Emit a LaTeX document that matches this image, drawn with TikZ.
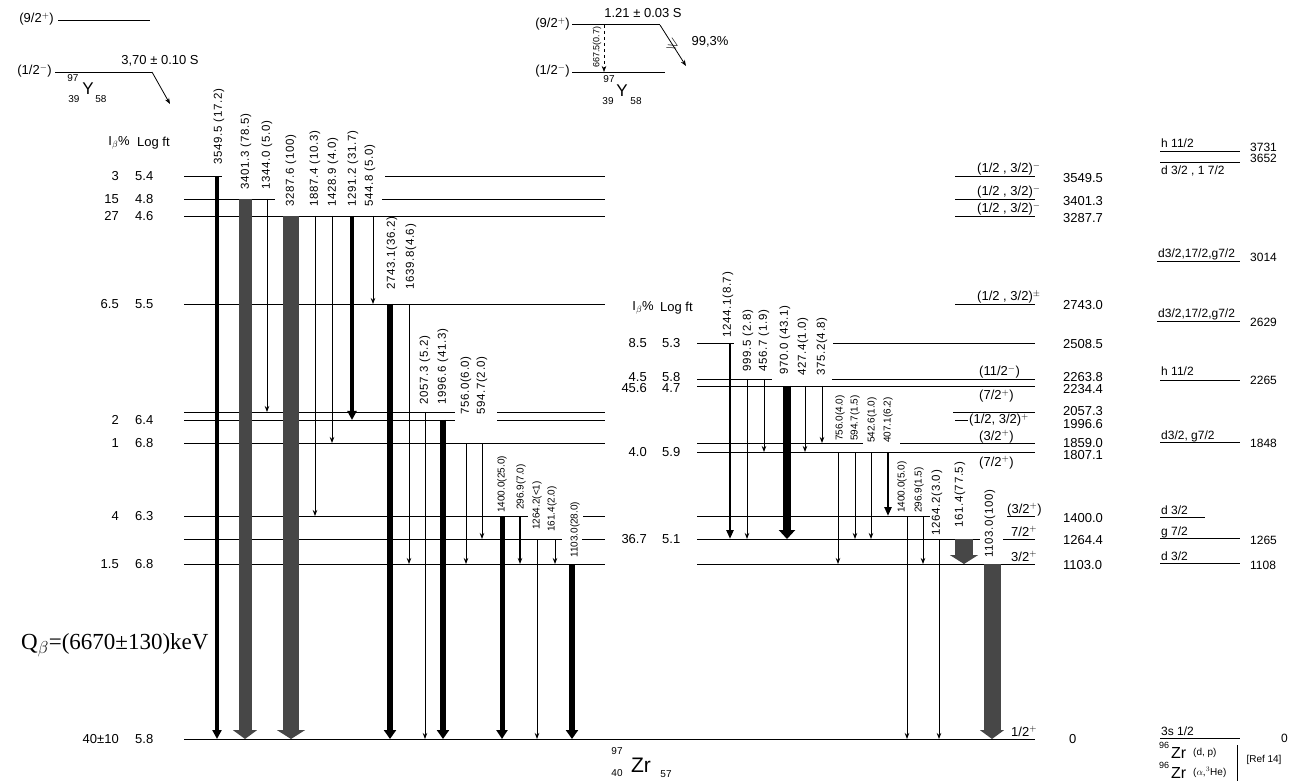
\documentclass[tikz,border=0pt]{standalone}
\usepackage{amssymb}
\usepackage{fontspec}
\setmainfont{Liberation Sans}
\newfontfamily\qfont{Liberation Serif}
\usetikzlibrary{arrows.meta}
\colorlet{stip}{black!72}
\newcommand{\lfont}{\fontsize{13}{15}\selectfont}
\newcommand{\gfont}{\fontsize{11.5}{13}\selectfont\addfontfeatures{LetterSpace=6}}
\newcommand{\sfnt}{\fontsize{10}{12}\selectfont}
\newcommand{\shfont}{\fontsize{12}{14}\selectfont}

\begin{document}
\begin{tikzpicture}[x=1pt,y=-1pt,
  every node/.style={font=\lfont,inner sep=1pt},
  lvl/.style={line width=0.8pt},
  gam/.style={line width=0.8pt,-{Stealth[length=6pt,width=4.5pt]}},
  gbar/.style n args={2}{line width=#1,-{Triangle[length=9pt,width=#2]}},
  glab/.style={rotate=90,anchor=west,inner sep=0pt,font=\gfont},
  glabs/.style={glab,font=\sfnt},
  ipv/.style={anchor=east},
  lft/.style={anchor=west},
  spin/.style={anchor=base west},
  en/.style={anchor=west},
  shl/.style={anchor=base west,font=\shfont}
]
\useasboundingbox (0,0) rectangle (1296,783);

% parent 97Y, left
\node[anchor=east] (p9l) at (55,19) {(9/2$^+$)};
\draw[lvl] (58,20) -- (150,20);
\node[anchor=east] (p1l) at (53,71) {(1/2$^-$)};
\draw[lvl] (55,72) -- (152,72);
\node (tl) at (160,61) {3,70 ± 0.10 S};
\draw[gam] (152,72) -- (170,104);
\node (yl97) at (73,78) {\fontsize{10}{10}\selectfont 97};
\node (yl) at (88,89) {\fontsize{17}{17}\selectfont Y};
\node (yl39) at (74,99) {\fontsize{10}{10}\selectfont 39};
\node (yl58) at (101,99) {\fontsize{10}{10}\selectfont 58};

% parent 97Y, isomer
\node[anchor=east] (p9m) at (571,24) {(9/2$^+$)};
\draw[lvl] (572,24) -- (660,24);
\node (tm) at (643,13) {1.21 ± 0.03 S};
\node[anchor=east] (p1m) at (571,71) {(1/2$^-$)};
\draw[lvl] (572,72) -- (665,72);
\draw[gam,dashed,line width=0.6pt] (604,25) -- (604,72);
\node[glab,font=\fontsize{9}{10}\selectfont] (it) at (597,68) {667.5(0.7)};
\draw[gam] (660,25) -- (686,66);
\node[rotate=-30,font=\fontsize{15}{15}\selectfont] (ge) at (673,45) {$\geqslant$};
\node (br) at (710,42) {99,3\%};
\node (ym97) at (609,79) {\fontsize{10}{10}\selectfont 97};
\node (ym) at (622,91) {\fontsize{17}{17}\selectfont Y};
\node (ym39) at (608,101) {\fontsize{10}{10}\selectfont 39};
\node (ym58) at (636,101) {\fontsize{10}{10}\selectfont 58};

% Ib / log ft, left
\node[ipv] (hbl) at (131,143) {I$_\beta$\%};
\node[lft] (hll) at (136,143) {Log ft};
\node[ipv] at (120,176) {3};      \node[lft] at (134,176) {5.4};
\node[ipv] at (120,199) {15};     \node[lft] at (134,199) {4.8};
\node[ipv] at (120,216) {27};     \node[lft] at (134,216) {4.6};
\node[ipv] at (120,304) {6.5};    \node[lft] at (134,304) {5.5};
\node[ipv] at (120,420) {2};      \node[lft] at (134,420) {6.4};
\node[ipv] at (120,443) {1};      \node[lft] at (134,443) {6.8};
\node[ipv] at (120,516) {4};      \node[lft] at (134,516) {6.3};
\node[ipv] at (120,564) {1.5};    \node[lft] at (134,564) {6.8};
\node[ipv] at (120,739) {40±10};  \node[lft] at (134,739) {5.8};

% Ib / log ft, right
\node[ipv] (hbr) at (655,308) {I$_\beta$\%};
\node[lft] (hlr) at (659,308) {Log ft};
\node[ipv] at (648,343) {8.5};    \node[lft] at (661,343) {5.3};
\node[ipv] at (648,377) {4.5};    \node[lft] at (661,377) {5.8};
\node[ipv] at (648,388) {45.6};   \node[lft] at (661,388) {4.7};
\node[ipv] at (648,452) {4.0};    \node[lft] at (661,452) {5.9};
\node[ipv] at (648,539) {36.7};   \node[lft] at (661,539) {5.1};

\node[anchor=west,font=\qfont\fontsize{23}{26}\selectfont] (qb) at (20,645) {Q$_\beta$=(6670±130)keV};

% levels, left part
\draw[lvl] (184,176) -- (222,176) (385,176) -- (605,176);
\draw[lvl] (184,199) -- (275,199) (382,199) -- (605,199);
\draw[lvl] (184,216) -- (605,216);
\draw[lvl] (184,304) -- (605,304);
\draw[lvl] (184,412) -- (455,412) (497,412) -- (605,412);
\draw[lvl] (184,420) -- (455,420) (497,420) -- (605,420);
\draw[lvl] (184,443) -- (605,443);
\draw[lvl] (184,516) -- (528,516) (583,516) -- (605,516);
\draw[lvl] (184,539) -- (562,539) (582,539) -- (605,539);
\draw[lvl] (184,564) -- (605,564);
\draw[lvl] (184,739) -- (1035,739);

% levels, right part
\draw[lvl] (955,176) -- (1035,176);
\draw[lvl] (955,199) -- (1035,199);
\draw[lvl] (955,216) -- (1035,216);
\draw[lvl] (955,304) -- (1035,304);
\draw[lvl] (697,343) -- (734,343) (833,343) -- (1035,343);
\draw[lvl] (697,379) -- (772,379) (832,379) -- (1035,379);
\draw[lvl] (697,386) -- (1035,386);
\draw[lvl] (953,412) -- (1035,412);
\draw[lvl] (955,420) -- (968,420);
\draw[lvl] (697,443) -- (863,443) (900,443) -- (1035,443);
\draw[lvl] (697,452) -- (1035,452);
\draw[lvl] (697,516) -- (930,516) (1007,516) -- (1035,516);
\draw[lvl] (697,539) -- (980,539) (1003,539) -- (1035,539);
\draw[lvl] (697,564) -- (1035,564);

% gammas, left part
\draw[gbar={3.5pt}{9pt}] (217,176) -- (217,739);
\draw[gbar={13pt}{24pt},stip] (245,199) -- (245,739);
\draw[gam] (267,199) -- (267,412);
\draw[gbar={16pt}{28pt},stip] (291,216) -- (291,739);
\draw[gam] (315,216) -- (315,516);
\draw[gam] (332,216) -- (332,443);
\draw[gbar={4pt}{9pt}] (352,216) -- (352,420);
\draw[gam] (373,216) -- (373,304);
\draw[gbar={6pt}{12pt}] (390,304) -- (390,739);
\draw[gam] (409,304) -- (409,564);
\draw[gam] (425,412) -- (425,739);
\draw[gbar={6pt}{12pt}] (443,420) -- (443,739);
\draw[gam] (466,443) -- (466,564);
\draw[gam] (482,443) -- (482,539);
\draw[gbar={5pt}{11pt}] (502,516) -- (502,739);
\draw[gam,line width=1.4pt] (520,516) -- (520,564);
\draw[gam] (537,539) -- (537,739);
\draw[gam] (555,539) -- (555,564);
\draw[gbar={6pt}{12pt}] (572,564) -- (572,739);

\node[glab] (l1) at (219,165) {3549.5 (17.2)};
\node[glab] (l2) at (246,190) {3401.3 (78.5)};
\node[glab] (l3) at (267,190) {1344.0 (5.0)};
\node[glab] (l4) at (291,207) {3287.6 (100)};
\node[glab] (l5) at (315,207) {1887.4 (10.3)};
\node[glab] (l6) at (333,207) {1428.9 (4.0)};
\node[glab] (l7) at (353,207) {1291.2 (31.7)};
\node[glab] (l8) at (370,207) {544.8 (5.0)};
\node[glab] (l9) at (392,290) {2743.1(36.2)};
\node[glab] (l10) at (411,290) {1639.8(4.6)};
\node[glab] (l11) at (425,405) {2057.3 (5.2)};
\node[glab] (l12) at (443,405) {1996.6 (41.3)};
\node[glab] (l13) at (466,415) {756.0(6.0)};
\node[glab] (l14) at (482,415) {594.7(2.0)};
\node[glabs] (l15) at (502,513) {1400.0(25.0)};
\node[glabs] (l16) at (521,510) {296.9(7.0)};
\node[glabs] (l17) at (537,530) {1264.2(<1)};
\node[glabs] (l18) at (552,532) {161.4(2.0)};
\node[glabs] (l19) at (575,558) {1103.0(28.0)};

% gammas, right part
\draw[gbar={2.5pt}{7pt}] (730,343) -- (730,539);
\draw[gam] (747,379) -- (747,539);
\draw[gam] (764,379) -- (764,452);
\draw[gbar={8pt}{16pt}] (787,386) -- (787,539);
\draw[gam] (805,386) -- (805,452);
\draw[gam] (822,386) -- (822,443);
\draw[gam] (838,452) -- (838,564);
\draw[gam] (855,452) -- (855,539);
\draw[gam] (871,452) -- (871,539);
\draw[gbar={2.5pt}{7pt}] (888,452) -- (888,516);
\draw[gam] (907,516) -- (907,739);
\draw[gam] (923,516) -- (923,564);
\draw[gam] (939,539) -- (939,739);
\draw[gbar={18pt}{28pt},stip] (964,539) -- (964,564);
\draw[gbar={17pt}{24pt},stip] (992,564) -- (992,739);

\node[glab] (r1) at (728,338) {1244.1(8.7)};
\node[glab] (r2) at (748,372) {999.5 (2.8)};
\node[glab] (r3) at (764,372) {456.7 (1.9)};
\node[glab] (r4) at (785,375) {970.0 (43.1)};
\node[glab] (r5) at (803,376) {427.4(1.0)};
\node[glab] (r6) at (822,376) {375.2(4.8)};
\node[glabs] (r7) at (840,441) {756.0(4.0)};
\node[glabs] (r8) at (855,441) {594.7(1.5)};
\node[glabs] (r9) at (872,443) {542.6(1.0)};
\node[glabs] (r10) at (888,443) {407.1(6.2)};
\node[glabs] (r11) at (902,513) {1400.0(5.0)};
\node[glabs] (r12) at (919,513) {296.9(1.5)};
\node[glab] (r13) at (937,536) {1264.2(3.0)};
\node[glab] (r14) at (960,528) {161.4(77.5)};
\node[glab] (r15) at (990,558) {1103.0(100)};

% spins
\node[spin] (s1) at (976,173) {(1/2 , 3/2)$^-$};
\node[spin] (s2) at (976,196) {(1/2 , 3/2)$^-$};
\node[spin] (s3) at (976,213) {(1/2 , 3/2)$^-$};
\node[spin] (s4) at (976,301) {(1/2 , 3/2)$^\pm$};
\node[spin] (s5) at (978,376) {(11/2$^-$)};
\node[spin] (s6) at (978,400) {(7/2$^+$)};
\node[anchor=west] (s7) at (968,420) {(1/2, 3/2)$^+$};
\node[spin] (s8) at (978,440) {(3/2$^+$)};
\node[spin] (s9) at (978,466) {(7/2$^+$)};
\node[spin] (s10) at (1006,513) {(3/2$^+$)};
\node[spin] (s11) at (1010,536) {7/2$^+$};
\node[spin] (s12) at (1010,561) {3/2$^+$};
\node[spin] (s13) at (1010,736) {1/2$^+$};

% energies
\node[en] (e1) at (1062,178) {3549.5};
\node[en] (e2) at (1062,201) {3401.3};
\node[en] (e3) at (1062,218) {3287.7};
\node[en] (e4) at (1062,305) {2743.0};
\node[en] (e5) at (1062,344) {2508.5};
\node[en] (e6) at (1062,377) {2263.8};
\node[en] (e7) at (1062,389) {2234.4};
\node[en] (e8) at (1062,411) {2057.3};
\node[en] (e9) at (1062,424) {1996.6};
\node[en] (e10) at (1062,443) {1859.0};
\node[en] (e11) at (1062,455) {1807.1};
\node[en] (e12) at (1062,518) {1400.0};
\node[en] (e13) at (1062,540) {1264.4};
\node[en] (e14) at (1062,565) {1103.0};
\node[en] (e15) at (1068,739) {0};

% 97Zr
\node (zr97) at (617,751) {\fontsize{10}{10}\selectfont 97};
\node (zr) at (641,765) {\fontsize{21}{21}\selectfont Zr};
\node (zr40) at (617,773) {\fontsize{10}{10}\selectfont 40};
\node (zr57) at (666,774) {\fontsize{10}{10}\selectfont 57};

% shell model states
\node[shl] (h1) at (1160,148) {h 11/2};
\draw[lvl] (1160,151) -- (1240,151);
\node[en,font=\shfont] (h1e) at (1249,147) {3731};
\draw[lvl] (1160,162) -- (1240,162);
\node[shl] (h2) at (1160,175) {d 3/2 , 1 7/2};
\node[en,font=\shfont] (h2e) at (1249,158) {3652};
\node[shl] (h3) at (1157,258) {d3/2,17/2,g7/2};
\draw[lvl] (1157,261) -- (1240,261);
\node[en,font=\shfont] (h3e) at (1249,257) {3014};
\node[shl] (h4) at (1157,318) {d3/2,17/2,g7/2};
\draw[lvl] (1157,321) -- (1240,321);
\node[en,font=\shfont] (h4e) at (1249,322) {2629};
\node[shl] (h5) at (1160,376) {h 11/2};
\draw[lvl] (1160,380) -- (1240,380);
\node[en,font=\shfont] (h5e) at (1249,380) {2265};
\node[shl] (h6) at (1160,439) {d3/2, g7/2};
\draw[lvl] (1160,442) -- (1240,442);
\node[en,font=\shfont] (h6e) at (1249,443) {1848};
\node[shl] (h7) at (1160,514) {d 3/2};
\draw[lvl] (1160,517) -- (1205,517);
\node[shl] (h8) at (1160,535) {g 7/2};
\draw[lvl] (1160,538) -- (1240,538);
\node[en,font=\shfont] (h8e) at (1249,540) {1265};
\node[shl] (h9) at (1160,560) {d 3/2};
\draw[lvl] (1160,563) -- (1240,563);
\node[en,font=\shfont] (h9e) at (1249,565) {1108};
\node[shl] (h10) at (1160,735) {3s 1/2};
\draw[lvl] (1160,738) -- (1240,738);
\node[en,font=\shfont] (h10e) at (1280,738) {0};

% reactions
\node[anchor=base west,font=\fontsize{9}{9}\selectfont] (d96) at (1158,748) {96};
\node[anchor=base west,font=\fontsize{16}{16}\selectfont] (dzr) at (1170,758) {Zr};
\node[anchor=base west,font=\fontsize{10}{10}\selectfont] (ddp) at (1192,755) {(d, p)};
\node[anchor=base west,font=\fontsize{9}{9}\selectfont] (a96) at (1158,768) {96};
\node[anchor=base west,font=\fontsize{16}{16}\selectfont] (azr) at (1170,778) {Zr};
\node[anchor=base west,font=\fontsize{10}{10}\selectfont] (aap) at (1192,775) {($\alpha$,$^3$He)};
\draw[line width=0.6pt] (1237,745) -- (1237,781);
\node[font=\fontsize{10}{10}\selectfont] (ref) at (1264,760) {[Ref 14]};
\end{tikzpicture}
\end{document}
